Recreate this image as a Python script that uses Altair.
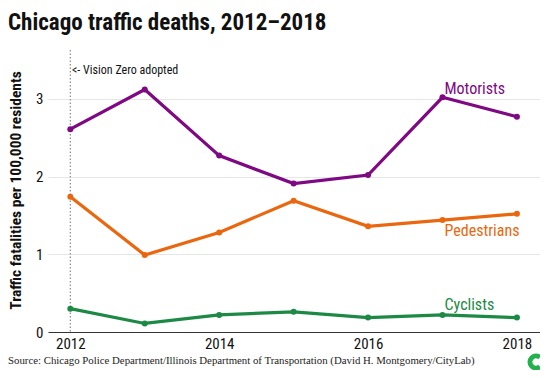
import altair as alt
import pandas as pd

years = [2012, 2013, 2014, 2015, 2016, 2017, 2018]
motorists = [2.61, 3.12, 2.27, 1.91, 2.02, 3.02, 2.77]
pedestrians = [1.74, 0.99, 1.28, 1.69, 1.36, 1.44, 1.52]
cyclists = [0.30, 0.11, 0.22, 0.26, 0.185, 0.22, 0.185]

series_names = ["Motorists", "Pedestrians", "Cyclists"]
series_colors = ["#7f0883", "#ea670f", "#1c8a45"]
label_x = [2017, 2017, 2017]
label_y = [3.13, 1.30, 0.35]

title_text = "Chicago traffic deaths, 2012\u20132018"
source_text = "Source: Chicago Police Department/Illinois Department of Transportation (David H. Montgomery/CityLab)"
annot_text = "<- Vision Zero adopted"
y_title = "Traffic fatalities per 100,000 residents"

W, H = 492, 272
COND = "Roboto Condensed"

rows = []
for name, vals in zip(series_names, [motorists, pedestrians, cyclists]):
    for yr, v in zip(years, vals):
        rows.append({"year": yr, "value": v, "series": name})
df = pd.DataFrame(rows)
labels_df = pd.DataFrame({"year": label_x, "value": label_y, "series": series_names})

xscale = alt.Scale(domain=[2011.7, 2018.31], nice=False)
yscale = alt.Scale(domain=[0, 3.5], nice=False)
color = alt.Color("series:N", scale=alt.Scale(domain=series_names, range=series_colors), legend=None)

x_enc = alt.X("year:Q", scale=xscale,
              axis=alt.Axis(values=[2012, 2014, 2016, 2018], format="d", title=None,
                            grid=False, ticks=False, domain=True, domainColor="#333333",
                            domainWidth=1.2, labelFont=COND, labelFontSize=15,
                            labelColor="#111111", labelPadding=4))
y_enc = alt.Y("value:Q", scale=yscale,
              axis=alt.Axis(values=[0, 0.5, 1, 1.5, 2, 2.5, 3, 3.5],
                            labelExpr="datum.value % 1 === 0 ? format(datum.value, 'd') : ''",
                            grid=True, gridColor="#e6e6e6", gridWidth=1,
                            ticks=False, domain=False, labelFont=COND, labelFontSize=15,
                            labelColor="#111111", labelPadding=5,
                            title=y_title, titleFont=COND, titleFontSize=15.5,
                            titleFontWeight="bold", titleColor="#111111",
                            titleX=-33, titleY=130, titleBaseline="middle", titleAngle=-90))

base = alt.Chart(df)

rule = alt.Chart(pd.DataFrame({"year": [2012]})).mark_rule(
    color="#8a8a8a", strokeDash=[1.5, 2], strokeWidth=1.2
).encode(x=alt.X("year:Q", scale=xscale), y=alt.value(-10), y2=alt.value(H))

lines = base.mark_line(strokeWidth=3.2).encode(x=x_enc, y=y_enc, color=color)
points = base.mark_circle(size=36, opacity=1).encode(x="year:Q", y="value:Q", color=color)

labels = alt.Chart(labels_df).mark_text(
    align="left", baseline="middle", font=COND, fontSize=16, dx=2
).encode(x="year:Q", y="value:Q", text="series:N", color=color)

annot = alt.Chart(pd.DataFrame({"t": [annot_text]})).mark_text(
    align="left", baseline="middle", font=COND, fontSize=12, color="#111111"
).encode(x=alt.value(24), y=alt.value(10), text="t:N")

title = alt.Chart(pd.DataFrame({"t": [title_text]})).mark_text(
    align="left", baseline="alphabetic", font=COND, fontSize=23, fontWeight="bold",
    color="#111111"
).encode(x=alt.value(-40), y=alt.value(-30.5), text="t:N")

source = alt.Chart(pd.DataFrame({"t": [source_text]})).mark_text(
    align="left", baseline="middle", font="Liberation Serif", fontSize=10.8, color="#222222"
).encode(x=alt.value(-40), y=alt.value(301), text="t:N")

logo = alt.Chart(pd.DataFrame({"t": [1]})).mark_arc(
    innerRadius=3.5, outerRadius=8.5, theta=2.45, theta2=6.283 + 0.7, color="#22b14c"
).encode(x=alt.value(488), y=alt.value(302))

chart = alt.layer(rule, lines, points, labels, annot, title, source, logo).properties(
    width=W, height=H,
    autosize=alt.AutoSizeParams(type="none"),
    padding={"left": 40, "top": 52, "right": 0, "bottom": 38},
).configure_view(stroke=None)

chart.save("out.html", embed_options={"renderer": "svg", "actions": False})
